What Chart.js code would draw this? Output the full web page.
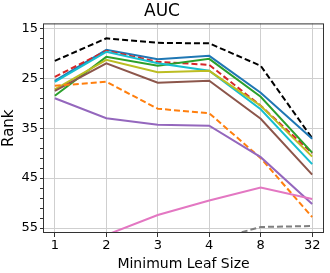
<!DOCTYPE html>
<html lang="en">
<head>
    <meta charset="UTF-8">
    <title>AUC</title>
    <style>
        html, body { margin: 0; padding: 0; background: #fff; }
        .chart-box { width: 330px; height: 273px; }
    </style>
</head>
<body>
    <div class="chart-box">
        <canvas id="myChartAuc"></canvas>
    </div>

    <script src="https://cdn.jsdelivr.net/npm/chart.js"></script>
    <script>
    // Minimum leaf size categories
    var leafSizes = ['1', '2', '3', '4', '8', '32'];

    // rank values per method (lower = better)
    var blackDash  = [21.5, 17.0, 17.9, 18.0, 22.5, 37.0];
    var blueLine   = [25.5, 19.3, 21.2, 20.5, 27.9, 37.1];
    var redDash    = [24.7, 19.5, 21.7, 22.3, 30.5, 40.0];
    var greenLine  = [28.5, 20.7, 22.5, 21.1, 28.7, 39.9];
    var cyanLine   = [25.7, 19.7, 22.0, 23.5, 31.2, 42.2];
    var oliveLine  = [27.2, 21.3, 23.8, 23.5, 30.5, 40.7];
    var brownLine  = [27.5, 22.0, 25.9, 25.5, 33.1, 44.3];
    var orangeDash = [26.5, 25.7, 31.1, 32.0, 41.0, 52.8];
    var purpleLine = [29.0, 33.0, 34.3, 34.5, 40.8, 50.2];
    var pinkLine   = [59.0, 56.4, 52.4, 49.5, 46.9, 49.2];
    var grayDash   = [61.0, 60.0, 59.0, 57.6, 54.8, 54.6];

    var rankTicks = [];
    for (let r = 15; r <= 55; r += 2) rankTicks.push(r);

    function pts(arr) {
        return arr.map(function (v, i) { return { x: i, y: v }; });
    }

    function ctxAuc() {
        const ctx = document.getElementById('myChartAuc').getContext('2d');

        function line(values, color, dashed) {
            return {
                data: pts(values),
                borderColor: color,
                backgroundColor: color,
                borderWidth: 2,
                borderDash: dashed ? [6, 3] : [],
                pointRadius: 0,
                tension: 0,
                fill: false
            };
        }

        const data = {
            datasets: [
                line(grayDash, '#7f7f7f', true),
                line(pinkLine, '#e377c2', false),
                line(purpleLine, '#9467bd', false),
                line(orangeDash, '#ff7f0e', true),
                line(brownLine, '#8c564b', false),
                line(oliveLine, '#bcbd22', false),
                line(cyanLine, '#17becf', false),
                line(greenLine, '#2ca02c', false),
                line(redDash, '#d62728', true),
                line(blueLine, '#1f77b4', false),
                line(blackDash, '#000000', true)
            ]
        };

        const frame = {
            id: 'frame',
            afterDatasetsDraw(chart) {
                const a = chart.chartArea;
                const c = chart.ctx;
                c.save();
                c.strokeStyle = '#333';
                c.lineWidth = 1;
                c.strokeRect(a.left + 0.5, a.top + 0.5, a.right - a.left - 1, a.bottom - a.top - 1);
                c.restore();
            }
        };

        const config = {
            type: 'line',
            data: data,
            plugins: [frame],
            options: {
                responsive: false,
                animation: false,
                layout: { padding: { top: 0, right: 6, left: 0, bottom: 0 } },
                plugins: {
                    legend: { display: false },
                    tooltip: { enabled: false },
                    title: {
                        display: true,
                        text: 'AUC',
                        color: '#000',
                        font: { family: 'DejaVu Sans', size: 17, weight: 'normal' },
                        padding: { top: 1, bottom: 2 }
                    }
                },
                scales: {
                    x: {
                        type: 'linear',
                        min: -0.23,
                        max: 5.23,
                        afterBuildTicks: function (scale) {
                            scale.ticks = leafSizes.map(function (l, i) { return { value: i }; });
                        },
                        afterFit: function (scale) { scale.height = 40; },
                        ticks: {
                            color: '#000',
                            font: { family: 'DejaVu Sans', size: 13 },
                            padding: 1,
                            maxRotation: 0,
                            callback: function (v) { return leafSizes[v]; }
                        },
                        grid: { color: '#cfcfcf', tickColor: '#333', tickLength: 4, lineWidth: 1 },
                        border: { display: false },
                        title: {
                            display: true,
                            text: 'Minimum Leaf Size',
                            color: '#000',
                            font: { family: 'DejaVu Sans', size: 14 },
                            padding: { top: 0, bottom: 0 }
                        }
                    },
                    y: {
                        reverse: true,
                        min: 14,
                        max: 56,
                        afterBuildTicks: function (scale) {
                            scale.ticks = rankTicks.map(function (r) { return { value: r }; });
                        },
                        afterFit: function (scale) { scale.width = 43; },
                        ticks: {
                            color: '#000',
                            font: { family: 'DejaVu Sans', size: 13 },
                            padding: 2,
                            autoSkip: false,
                            callback: function (v) { return (v - 15) % 10 === 0 ? String(v) : ''; }
                        },
                        grid: {
                            color: function (c) {
                                return c.tick && (c.tick.value - 15) % 10 === 0 ? '#cfcfcf' : 'rgba(0,0,0,0)';
                            },
                            tickColor: '#333',
                            tickLength: 3,
                            lineWidth: 1
                        },
                        border: { display: false },
                        title: {
                            display: true,
                            text: 'Rank',
                            color: '#000',
                            font: { family: 'DejaVu Sans', size: 15 },
                            padding: { top: 0, bottom: 0 }
                        }
                    }
                }
            }
        };

        new Chart(ctx, config);
    }

    document.getElementById('myChartAuc').width = 330;
    document.getElementById('myChartAuc').height = 273;
    ctxAuc();
    </script>
</body>
</html>
